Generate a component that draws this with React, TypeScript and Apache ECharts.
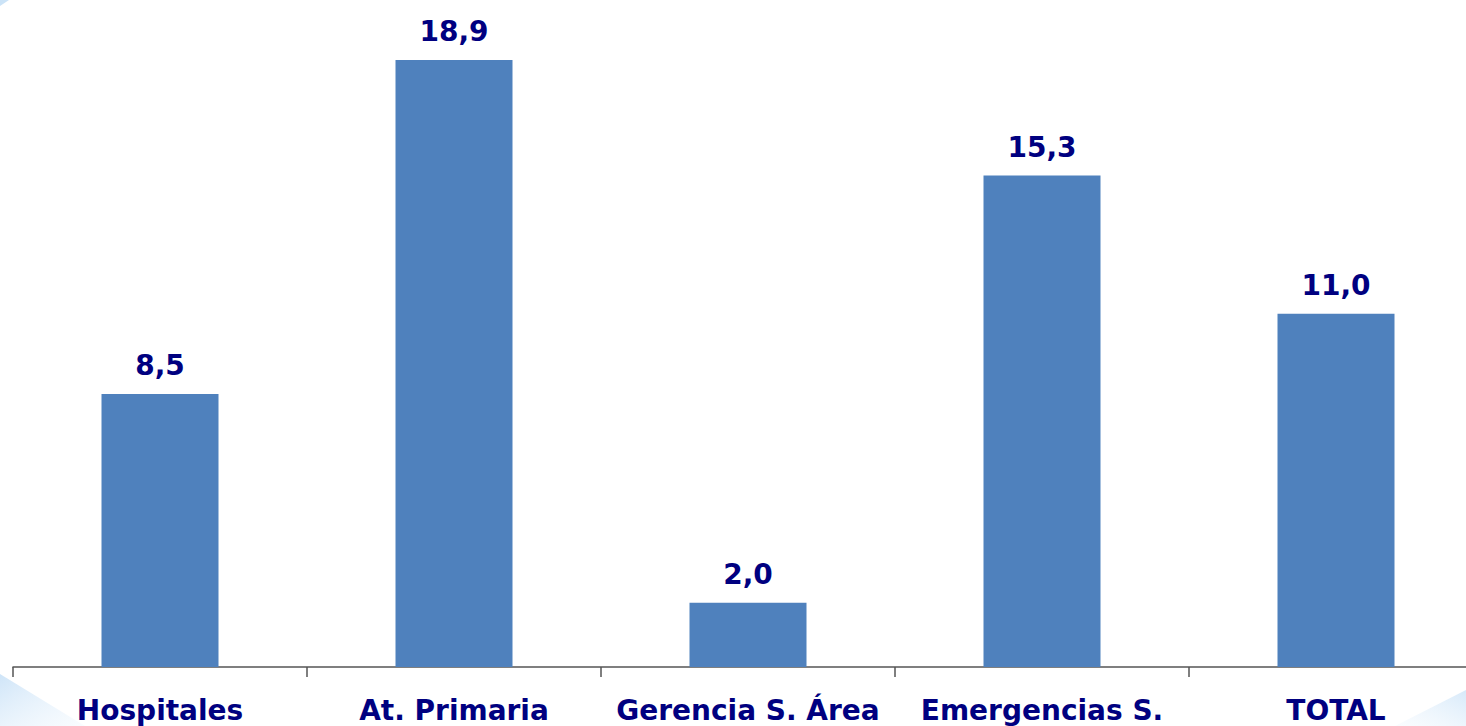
import React, { useEffect, useRef } from "react";
import * as echarts from "echarts";

const categories = ["Hospitales", "At. Primaria", "Gerencia S. Área", "Emergencias S.", "TOTAL"];
const values = [8.5, 18.9, 2.0, 15.3, 11.0];

export default function App() {
  const ref = useRef<HTMLDivElement>(null);
  useEffect(() => {
    const chart = echarts.init(ref.current!, null, { renderer: "svg" });
    chart.setOption({
      animation: false,
      backgroundColor: "#ffffff",
      graphic: [
        {
          type: "polygon",
          silent: true,
          z: -10,
          shape: { points: [[0, 674], [0, 726], [85, 726]] },
          style: {
            fill: new echarts.graphic.LinearGradient(0, 0, 1, 1, [
              { offset: 0, color: "rgba(195,222,246,0.8)" },
              { offset: 1, color: "rgba(235,245,253,0.3)" },
            ]),
          },
        },
        {
          type: "polygon",
          silent: true,
          z: -10,
          shape: { points: [[1466, 690], [1466, 726], [1395, 726]] },
          style: {
            fill: new echarts.graphic.LinearGradient(1, 0, 0, 1, [
              { offset: 0, color: "rgba(205,228,248,0.8)" },
              { offset: 1, color: "rgba(238,246,253,0.3)" },
            ]),
          },
        },
        {
          type: "polygon",
          silent: true,
          z: -10,
          shape: { points: [[0, 0], [9, 0], [0, 6]] },
          style: { fill: "rgba(190,220,245,0.8)" },
        },
      ],
      grid: { left: 13, right: 0, top: 24.6, bottom: 59, containLabel: false },
      xAxis: {
        type: "category",
        data: categories,
        axisLine: { show: true, lineStyle: { color: "#555555", width: 1.5 } },
        axisTick: { show: true, length: 10, lineStyle: { color: "#555555", width: 1.5 } },
        axisLabel: {
          color: "#000080",
          fontFamily: "DejaVu Sans",
          fontWeight: "bold",
          fontSize: 28,
          margin: 29,
          interval: 0,
        },
      },
      yAxis: {
        type: "value",
        min: 0,
        max: 20,
        show: false,
        splitLine: { show: false },
      },
      series: [
        {
          type: "bar",
          data: values,
          barWidth: 117,
          itemStyle: { color: "#4F81BD" },
          label: {
            show: true,
            position: "top",
            distance: 14,
            color: "#000080",
            fontFamily: "DejaVu Sans",
            fontWeight: "bold",
            fontSize: 28,
            formatter: (p: any) => p.value.toFixed(1).replace(".", ","),
          },
        },
      ],
    });
    return () => chart.dispose();
  }, []);
  return (
    <div style={{ position: "absolute", left: 0, top: 0, width: 1466, height: 726, overflow: "hidden" }}>
      <div ref={ref} style={{ width: 1483, height: 726 }} />
    </div>
  );
}
